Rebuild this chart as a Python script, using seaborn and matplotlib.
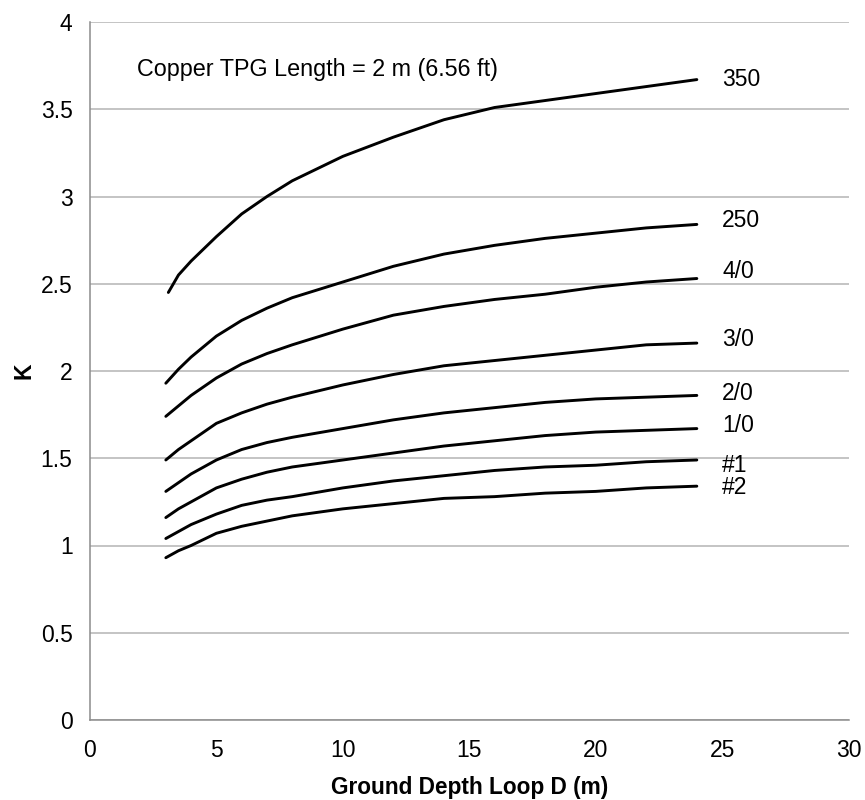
import numpy as np
import pandas as pd
import matplotlib
matplotlib.use("Agg")
import matplotlib.pyplot as plt
import seaborn as sns

# values
depth = [3, 3.5, 4, 5, 6, 7, 8, 10, 12, 14, 16, 18, 20, 22, 24]
k_350 = [2.45, 2.55, 2.63, 2.77, 2.90, 3.00, 3.09, 3.23, 3.34, 3.44, 3.51, 3.55, 3.59, 3.63, 3.67]
k_250 = [1.93, 2.01, 2.08, 2.20, 2.29, 2.36, 2.42, 2.51, 2.60, 2.67, 2.72, 2.76, 2.79, 2.82, 2.84]
k_4_0 = [1.74, 1.80, 1.86, 1.96, 2.04, 2.10, 2.15, 2.24, 2.32, 2.37, 2.41, 2.44, 2.48, 2.51, 2.53]
k_3_0 = [1.49, 1.55, 1.60, 1.70, 1.76, 1.81, 1.85, 1.92, 1.98, 2.03, 2.06, 2.09, 2.12, 2.15, 2.16]
k_2_0 = [1.31, 1.36, 1.41, 1.49, 1.55, 1.59, 1.62, 1.67, 1.72, 1.76, 1.79, 1.82, 1.84, 1.85, 1.86]
k_1_0 = [1.16, 1.21, 1.25, 1.33, 1.38, 1.42, 1.45, 1.49, 1.53, 1.57, 1.60, 1.63, 1.65, 1.66, 1.67]
k_n1 = [1.04, 1.08, 1.12, 1.18, 1.23, 1.26, 1.28, 1.33, 1.37, 1.40, 1.43, 1.45, 1.46, 1.48, 1.49]
k_n2 = [0.93, 0.97, 1.00, 1.07, 1.11, 1.14, 1.17, 1.21, 1.24, 1.27, 1.28, 1.30, 1.31, 1.33, 1.34]

sizes = ["350", "250", "4/0", "3/0", "2/0", "1/0", "#1", "#2"]
series = [k_350, k_250, k_4_0, k_3_0, k_2_0, k_1_0, k_n1, k_n2]
label_y = [3.67, 2.86, 2.57, 2.18, 1.87, 1.69, 1.46, 1.33]
label_x = 25

# 350 curve starts a little right of x=3
start_x = {"350": 3.1}

rows = []
for name, vals in zip(sizes, series):
    for i, (d, v) in enumerate(zip(depth, vals)):
        if i == 0 and name in start_x:
            d = start_x[name]
        rows.append({"size": name, "D": d, "K": v})
df = pd.DataFrame(rows)

sns.set_style("white")
plt.rcParams["font.family"] = ["Liberation Sans", "DejaVu Sans"]
plt.rcParams["lines.solid_joinstyle"] = "round"

fig = plt.figure(figsize=(8.65, 8), dpi=100)
ax = fig.add_axes([0.104, 0.1, 0.877, 0.8725])

ax.yaxis.grid(True, color="#b4b4b4", linewidth=1.1)
ax.set_axisbelow(True)

sns.lineplot(data=df, x="D", y="K", hue="size", hue_order=sizes,
             palette=["black"] * len(sizes), linewidth=2.1,
             legend=False, sort=False, ax=ax)

for name, y in zip(sizes, label_y):
    ax.text(label_x, y, name, fontsize=16.5, va="center", ha="left", color="black")

ax.text(1.86, 3.725, "Copper TPG Length = 2 m (6.56 ft)", fontsize=16.8,
        va="center", ha="left", color="black")

ax.set_xlim(0, 30)
ax.set_ylim(0, 4)
ax.set_xticks(np.arange(0, 31, 5))
ax.set_yticks(np.arange(0, 4.01, 0.5))
ax.set_yticklabels(["0", "0.5", "1", "1.5", "2", "2.5", "3", "3.5", "4"])

for s in ["top", "right"]:
    ax.spines[s].set_visible(False)
for s in ["left", "bottom"]:
    ax.spines[s].set_color("#8c8c8c")
    ax.spines[s].set_linewidth(1.1)

ax.tick_params(axis="y", pad=4.5)
ax.tick_params(axis="x", pad=6)
ax.tick_params(axis="both", direction="out", length=8, width=1.1,
               color="#8c8c8c", labelsize=16.5, labelcolor="black")

ax.set_xlabel("Ground Depth Loop D (m)", fontsize=16.3, fontweight="bold",
              labelpad=10, color="black")
ax.set_ylabel("K", fontsize=16.5, fontweight="bold", labelpad=4, color="black")

fig.savefig("out.png", dpi=100)
